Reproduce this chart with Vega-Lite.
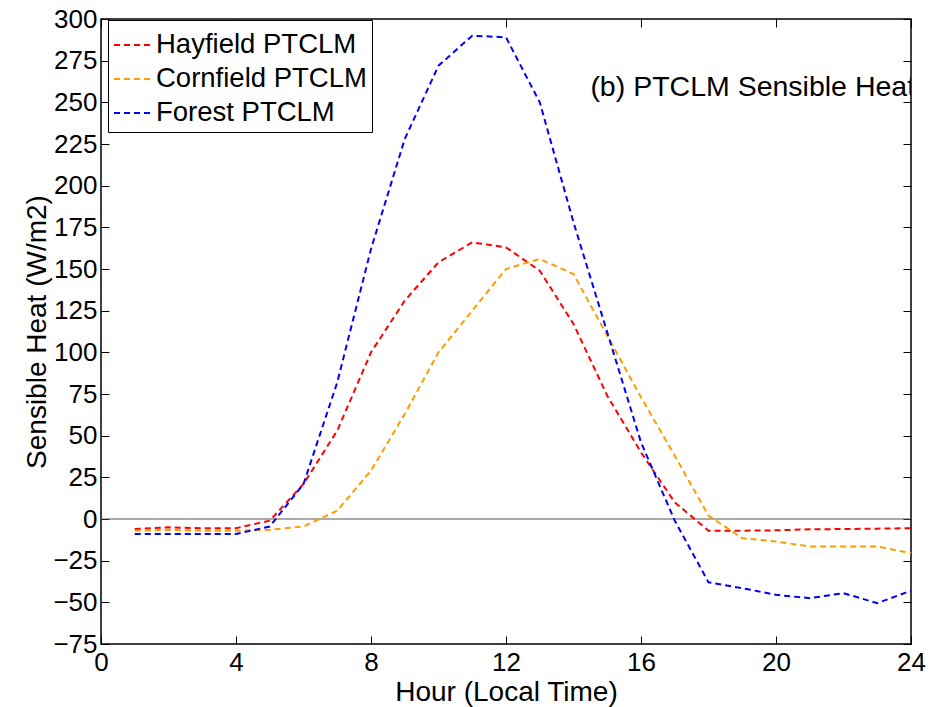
{
  "$schema": "https://vega.github.io/schema/vega-lite/v6.json",
  "width": 810,
  "height": 625,
  "autosize": {"type": "none"},
  "padding": {"left": 101, "top": 19, "right": 18, "bottom": 63},
  "background": "white",
  "config": {
    "view": {"stroke": "black", "strokeWidth": 1.5},
    "font": "Liberation Sans",
    "axis": {
      "domain": false,
      "grid": false,
      "labelFont": "Liberation Sans",
      "labelFontSize": 26,
      "labelColor": "black",
      "titleFont": "Liberation Sans",
      "titleFontSize": 28,
      "titleFontWeight": "normal",
      "titleColor": "black",
      "tickColor": "black",
      "tickSize": -8,
      "tickWidth": 1,
      "labelOverlap": false,
      "labelFlush": false,
      "labelBound": false
    }
  },
  "resolve": {"axis": {"x": "independent", "y": "independent"}},
  "datasets": {
    "series": [
      {"hour": 1, "series": "Hayfield PTCLM", "value": -6},
      {"hour": 2, "series": "Hayfield PTCLM", "value": -5},
      {"hour": 3, "series": "Hayfield PTCLM", "value": -5.5},
      {"hour": 4, "series": "Hayfield PTCLM", "value": -5.5},
      {"hour": 5, "series": "Hayfield PTCLM", "value": -1},
      {"hour": 6, "series": "Hayfield PTCLM", "value": 21},
      {"hour": 7, "series": "Hayfield PTCLM", "value": 53},
      {"hour": 8, "series": "Hayfield PTCLM", "value": 100},
      {"hour": 9, "series": "Hayfield PTCLM", "value": 131},
      {"hour": 10, "series": "Hayfield PTCLM", "value": 154},
      {"hour": 11, "series": "Hayfield PTCLM", "value": 166},
      {"hour": 12, "series": "Hayfield PTCLM", "value": 163},
      {"hour": 13, "series": "Hayfield PTCLM", "value": 149},
      {"hour": 14, "series": "Hayfield PTCLM", "value": 117},
      {"hour": 15, "series": "Hayfield PTCLM", "value": 74},
      {"hour": 16, "series": "Hayfield PTCLM", "value": 40},
      {"hour": 17, "series": "Hayfield PTCLM", "value": 10},
      {"hour": 18, "series": "Hayfield PTCLM", "value": -7},
      {"hour": 19, "series": "Hayfield PTCLM", "value": -7},
      {"hour": 20, "series": "Hayfield PTCLM", "value": -6.8},
      {"hour": 21, "series": "Hayfield PTCLM", "value": -6.2},
      {"hour": 22, "series": "Hayfield PTCLM", "value": -6},
      {"hour": 23, "series": "Hayfield PTCLM", "value": -5.8},
      {"hour": 24, "series": "Hayfield PTCLM", "value": -5.5},
      {"hour": 1, "series": "Cornfield PTCLM", "value": -7},
      {"hour": 2, "series": "Cornfield PTCLM", "value": -6.5},
      {"hour": 3, "series": "Cornfield PTCLM", "value": -7},
      {"hour": 4, "series": "Cornfield PTCLM", "value": -7},
      {"hour": 5, "series": "Cornfield PTCLM", "value": -6.5},
      {"hour": 6, "series": "Cornfield PTCLM", "value": -4.5},
      {"hour": 7, "series": "Cornfield PTCLM", "value": 5},
      {"hour": 8, "series": "Cornfield PTCLM", "value": 29},
      {"hour": 9, "series": "Cornfield PTCLM", "value": 63},
      {"hour": 10, "series": "Cornfield PTCLM", "value": 100},
      {"hour": 11, "series": "Cornfield PTCLM", "value": 125},
      {"hour": 12, "series": "Cornfield PTCLM", "value": 150},
      {"hour": 13, "series": "Cornfield PTCLM", "value": 156},
      {"hour": 14, "series": "Cornfield PTCLM", "value": 147},
      {"hour": 15, "series": "Cornfield PTCLM", "value": 110},
      {"hour": 16, "series": "Cornfield PTCLM", "value": 73},
      {"hour": 17, "series": "Cornfield PTCLM", "value": 38},
      {"hour": 18, "series": "Cornfield PTCLM", "value": 2},
      {"hour": 19, "series": "Cornfield PTCLM", "value": -11.5},
      {"hour": 20, "series": "Cornfield PTCLM", "value": -13.5},
      {"hour": 21, "series": "Cornfield PTCLM", "value": -16.5},
      {"hour": 22, "series": "Cornfield PTCLM", "value": -16.5},
      {"hour": 23, "series": "Cornfield PTCLM", "value": -16.5},
      {"hour": 24, "series": "Cornfield PTCLM", "value": -20.5},
      {"hour": 1, "series": "Forest PTCLM", "value": -9},
      {"hour": 2, "series": "Forest PTCLM", "value": -9},
      {"hour": 3, "series": "Forest PTCLM", "value": -9},
      {"hour": 4, "series": "Forest PTCLM", "value": -9},
      {"hour": 5, "series": "Forest PTCLM", "value": -4.5},
      {"hour": 6, "series": "Forest PTCLM", "value": 21},
      {"hour": 7, "series": "Forest PTCLM", "value": 82},
      {"hour": 8, "series": "Forest PTCLM", "value": 162},
      {"hour": 9, "series": "Forest PTCLM", "value": 228},
      {"hour": 10, "series": "Forest PTCLM", "value": 272},
      {"hour": 11, "series": "Forest PTCLM", "value": 290},
      {"hour": 12, "series": "Forest PTCLM", "value": 289},
      {"hour": 13, "series": "Forest PTCLM", "value": 250},
      {"hour": 14, "series": "Forest PTCLM", "value": 178},
      {"hour": 15, "series": "Forest PTCLM", "value": 112},
      {"hour": 16, "series": "Forest PTCLM", "value": 46},
      {"hour": 17, "series": "Forest PTCLM", "value": -1},
      {"hour": 18, "series": "Forest PTCLM", "value": -38},
      {"hour": 19, "series": "Forest PTCLM", "value": -41.5},
      {"hour": 20, "series": "Forest PTCLM", "value": -45.5},
      {"hour": 21, "series": "Forest PTCLM", "value": -47.5},
      {"hour": 22, "series": "Forest PTCLM", "value": -44.5},
      {"hour": 23, "series": "Forest PTCLM", "value": -50.5},
      {"hour": 24, "series": "Forest PTCLM", "value": -43}
    ],
    "note": [{"hour": 14.5, "value": 259, "label": "(b) PTCLM Sensible Heat"}],
    "zero": [{"value": 0}]
  },
  "layer": [
    {
      "data": {"name": "zero"},
      "mark": {"type": "rule", "color": "#555555", "strokeWidth": 1.2},
      "encoding": {
        "y": {"field": "value", "type": "quantitative", "axis": null}
      }
    },
    {
      "data": {"name": "series"},
      "mark": {"type": "line", "strokeDash": [6, 4], "strokeWidth": 2},
      "encoding": {
        "x": {
          "field": "hour", "type": "quantitative",
          "scale": {"domain": [0, 24], "nice": false, "zero": false},
          "axis": {"values": [0, 4, 8, 12, 16, 20, 24], "title": "Hour (Local Time)", "labelPadding": 13, "titlePadding": 3}
        },
        "y": {
          "field": "value", "type": "quantitative",
          "scale": {"domain": [-75, 300], "nice": false, "zero": false},
          "axis": {"values": [-75, -50, -25, 0, 25, 50, 75, 100, 125, 150, 175, 200, 225, 250, 275, 300], "title": "Sensible Heat (W/m2)", "labelPadding": 12, "titlePadding": 1}
        },
        "color": {
          "field": "series", "type": "nominal",
          "scale": {"domain": ["Hayfield PTCLM", "Cornfield PTCLM", "Forest PTCLM"], "range": ["#ff0000", "#ff9c00", "#0000ff"]},
          "legend": {
            "orient": "none", "legendX": 7, "legendY": 1,
            "title": null,
            "symbolType": "stroke", "symbolDash": [6, 4], "symbolStrokeWidth": 2, "symbolSize": 1444,
            "labelFont": "Liberation Sans", "labelFontSize": 27.5, "labelColor": "black", "labelOffset": 3, "labelLimit": 0,
            "strokeColor": "black", "fillColor": "white", "padding": 5, "rowPadding": -5.5, "cornerRadius": 0
          }
        }
      }
    },
    {
      "data": {"name": "note"},
      "mark": {"type": "text", "align": "left", "baseline": "middle", "fontSize": 28.5, "font": "Liberation Sans", "color": "black", "clip": true},
      "encoding": {
        "x": {"field": "hour", "type": "quantitative", "axis": null},
        "y": {"field": "value", "type": "quantitative", "axis": null},
        "text": {"field": "label"}
      }
    },
    {
      "data": {"name": "zero"},
      "mark": {"type": "point", "opacity": 0},
      "encoding": {
        "x": {"datum": 0, "type": "quantitative", "axis": {"orient": "top", "values": [0, 4, 8, 12, 16, 20, 24], "labels": false, "title": null}},
        "y": {"field": "value", "type": "quantitative", "axis": {"orient": "right", "values": [-75, -50, -25, 0, 25, 50, 75, 100, 125, 150, 175, 200, 225, 250, 275, 300], "labels": false, "title": null}}
      }
    }
  ]
}
